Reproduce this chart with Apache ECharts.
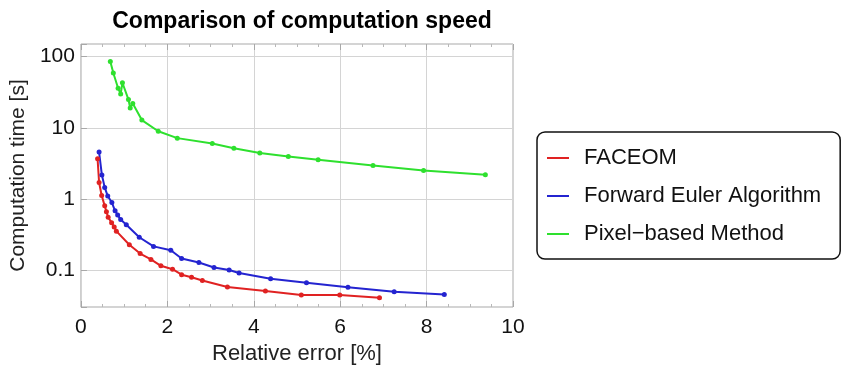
<!DOCTYPE html>
<html>
<head>
<meta charset="utf-8">
<script src="https://cdn.jsdelivr.net/npm/echarts@6/dist/echarts.min.js"></script>
<style>html,body{margin:0;padding:0;background:#fff}#c{width:842px;height:370px}</style>
</head>
<body>
<div id="c"></div>
<script>
const seriesNames = ['FACEOM', 'Forward Euler Algorithm', 'Pixel\u2212based Method'];
const faceom = [[0.385,3.7],[0.42,1.72],[0.48,1.13],[0.55,0.81],[0.59,0.67],[0.63,0.56],[0.71,0.47],[0.77,0.41],[0.82,0.358],[1.12,0.231],[1.37,0.174],[1.62,0.144],[1.85,0.117],[2.12,0.105],[2.33,0.088],[2.56,0.081],[2.81,0.073],[3.39,0.059],[4.27,0.052],[5.10,0.0455],[5.99,0.0455],[6.91,0.0419]];
const euler = [[0.42,4.6],[0.485,2.19],[0.55,1.47],[0.62,1.11],[0.716,0.90],[0.79,0.69],[0.85,0.605],[0.92,0.52],[1.05,0.44],[1.35,0.294],[1.68,0.219],[2.08,0.193],[2.33,0.148],[2.73,0.130],[3.08,0.111],[3.43,0.102],[3.66,0.093],[4.39,0.077],[5.22,0.0676],[6.18,0.0585],[7.25,0.0506],[8.41,0.0465]];
const pixel = [[0.68,85.5],[0.75,59],[0.86,36],[0.92,30],[0.96,43],[1.10,25],[1.14,19],[1.20,22],[1.41,12.9],[1.79,9.0],[2.23,7.2],[3.04,6.05],[3.54,5.2],[4.14,4.47],[4.80,3.98],[5.49,3.58],[6.76,2.97],[7.93,2.53],[9.36,2.21]];
const xTicks = [0, 2, 4, 6, 8, 10];
const yTicks = [0.1, 1, 10, 100];

const colors = ['#e02222', '#2424d0', '#2ee02e'];
const font = 'Liberation Sans, Arial, sans-serif';
const isDecade = v => yTicks.some(t => Math.abs(v - t) / t < 1e-6);

const chart = echarts.init(document.getElementById('c'), null, {renderer: 'canvas'});
const mkSeries = (name, data, i) => ({
  name, type: 'line', data, color: colors[i],
  symbol: 'circle', symbolSize: 5,
  lineStyle: {width: 2, color: colors[i]},
  itemStyle: {color: colors[i]},
  emphasis: {disabled: true}, animation: false
});
chart.setOption({
  animation: false,
  title: {
    text: 'Comparison of computation speed',
    left: 297, top: 5, textAlign: 'center',
    textStyle: {fontFamily: font, fontSize: 23, fontWeight: 'bold', color: '#000'}
  },
  grid: {left: 80, right: 329, top: 44, bottom: 57, show: true, borderColor: '#a8a8a8', borderWidth: 1},
  legend: {
    orient: 'vertical', left: 537, top: 132,
    data: seriesNames,
    icon: 'rect', itemWidth: 22, itemHeight: 2,
    itemGap: 14,
    padding: [14, 19, 13, 10],
    borderColor: '#111', borderWidth: 1.5, borderRadius: 8,
    textStyle: {fontFamily: font, fontSize: 22, color: '#111', padding: [0, 0, 0, 10], lineHeight: 24}
  },
  xAxis: [{
    type: 'value', min: xTicks[0], max: xTicks[xTicks.length - 1], interval: 2,
    name: 'Relative error [%]', nameLocation: 'middle', nameGap: 36,
    nameTextStyle: {fontFamily: font, fontSize: 22, color: '#222'},
    axisLine: {show: false},
    axisTick: {show: true, inside: true, length: 6, lineStyle: {color: '#a8a8a8'}},
    minorTick: {show: true, splitNumber: 4, length: 3, lineStyle: {color: '#b8b8b8'}},
    axisLabel: {fontFamily: font, fontSize: 21, color: '#111', margin: 10},
    splitLine: {show: true, lineStyle: {color: '#d4d4d4', width: 1}}
  }, {
    type: 'value', position: 'top', min: 0, max: 10, interval: 2,
    axisLine: {show: false}, axisLabel: {show: false},
    axisTick: {show: true, inside: true, length: 6, lineStyle: {color: '#a8a8a8'}},
    minorTick: {show: true, splitNumber: 4, length: 3, lineStyle: {color: '#b8b8b8'}},
    splitLine: {show: false}
  }],
  yAxis: [{
    type: 'log', logBase: 10, min: 0.031, max: 150,
    name: 'Computation time [s]', nameLocation: 'middle', nameGap: 47,
    nameTextStyle: {fontFamily: font, fontSize: 21, color: '#222'},
    axisLine: {show: false},
    axisTick: {show: true, inside: true, length: 6, lineStyle: {color: '#a8a8a8'}},
    axisLabel: {fontFamily: font, fontSize: 21, color: '#111', margin: 6,
      formatter: v => isDecade(v) ? String(yTicks.find(t => Math.abs(v - t) / t < 1e-6)) : ''},
    splitLine: {show: true, lineStyle: {color: '#d4d4d4', width: 1}}
  }],
  series: [mkSeries(seriesNames[0], faceom, 0), mkSeries(seriesNames[1], euler, 1), mkSeries(seriesNames[2], pixel, 2)]
});
</script>
</body>
</html>
